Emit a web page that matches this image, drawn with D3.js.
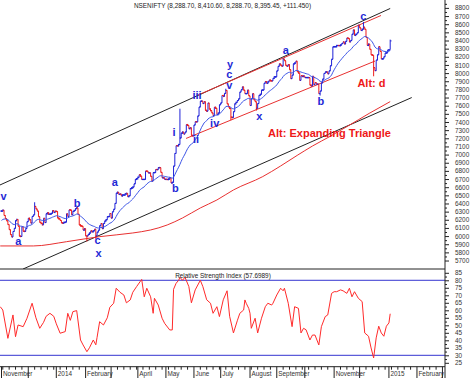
<!DOCTYPE html>
<html>
<head>
<meta charset="utf-8">
<script src="https://cdn.jsdelivr.net/npm/d3@7/dist/d3.min.js"></script>
<style>
body{margin:0;background:#fff}
svg{display:block;font-family:"Liberation Sans",Arial,sans-serif}
</style>
</head>
<body>
<svg id="chart" width="474" height="378"></svg>
<script>
// ---- data: NSENIFTY daily closes, one per weekday from 1 Nov 2013 ----
var closes = [
// Nov 2013
6307,6317,6253,6215,6187,6141,6079,6018,5989,6056,6095,6190,6204,6122,5999,5995,6115,6059,6057,6092,6176,
// Dec 2013
6218,6201,6160,6241,6260,6364,6333,6307,6238,6168,6155,6139,6218,6166,6274,6284,6268,6270,6278,6313,6291,6304,
// Jan 2014
6302,6221,6211,6191,6162,6159,6168,6171,6273,6242,6321,6319,6262,6304,6314,6338,6346,6267,6136,6126,6120,6074,6090,
// Feb
6002,6001,6022,6036,6063,6053,6063,6084,6001,6048,6073,6127,6153,6091,6155,6186,6200,6239,6239,6277,
// Mar
6221,6298,6329,6401,6527,6537,6512,6516,6493,6504,6504,6517,6524,6484,6494,6583,6590,6601,6641,6696,6704,
// Apr
6721,6752,6736,6695,6695,6695,6797,6796,6776,6776,6733,6675,6779,6779,6817,6815,6840,6840,6782,6715,6715,6696,
// May
6696,6694,6700,6715,6652,6659,6859,7014,7109,7108,7123,7203,7264,7276,7252,7276,7367,7359,7318,7329,7235,7230,
// Jun
7362,7403,7402,7474,7583,7655,7656,7626,7649,7542,7533,7632,7558,7540,7511,7477,7580,7569,7493,7508,7611,
// Jul
7634,7725,7714,7751,7787,7623,7585,7567,7459,7454,7527,7624,7640,7663,7684,7767,7795,7831,7790,7748,7748,7791,7721,
// Aug
7602,7684,7747,7672,7649,7568,7626,7727,7739,7792,7792,7875,7897,7875,7891,7913,7906,7904,7936,7954,7954,
// Sep
8027,8083,8114,8095,8086,8173,8152,8094,8085,8105,8042,7932,7975,8114,8122,8146,8017,8002,7911,7968,7958,7964,
// Oct
7945,7945,7945,7945,7852,7842,7960,7859,7884,7864,7864,7748,7779,7879,7927,7995,8014,8014,7991,8027,8090,8170,8322,
// Nov
8324,8324,8338,8338,8337,8344,8363,8383,8357,8390,8430,8425,8382,8401,8477,8530,8463,8475,8494,8588,
// Dec
8555,8524,8537,8564,8538,8438,8340,8355,8292,8224,8219,8067,8030,8159,8225,8324,8268,8174,8174,8200,8246,8248,8283,
// Jan 2015
8284,8395
];

// intraday extremes that stand out from the bars
var highDays = [26, 140, 176, 221, 284, 305];
var highVals = [6415, 7563, 7808, 8180, 8627, 8410.6];
var lowDays = [67, 74, 180, 200, 250, 292, 305];
var lowVals = [5933, 5962, 7422, 7540, 7724, 7961, 8288.7];

var emaSeed = 6180;

// 200 day average (red curve)
var ma200Days = [-1, 25, 51, 77, 103, 117, 130, 142, 156, 169, 182, 205, 219, 232, 244, 258, 271, 289, 305];
var ma200Vals = [5879, 5879, 5931, 5993, 6038, 6075, 6136, 6222, 6345, 6443, 6566, 6730, 6860, 6990, 7105, 7225, 7343, 7510, 7650];

// RSI
var rsiDays = [-1,1,5,9,11,13,17,20,24,27,30,33,35,38,41,43,46,50,52,54,56,59,62,64,67,69,72,74,75,77,80,83,85,88,90,93,96,98,101,103,106,110,112,114,117,119,120,123,126,128,132,134,135,137,139,140,142,144,147,149,152,156,158,161,164,166,169,171,174,177,179,182,185,187,190,191,192,194,195,196,199,201,204,207,209,212,213,216,219,221,222,225,228,230,233,235,237,239,242,244,246,249,251,254,256,259,261,263,266,268,271,273,275,277,280,283,285,288,290,292,294,296,298,300,302,304,305];
var rsiVals = [62.4,60.2,41.3,56.9,42.4,50.2,49.1,54.7,64.7,55,48,52,56,58,56,51,44.7,45.8,58,53.3,59.1,59.8,40.2,36.9,32.4,35,40.2,37,42,52.4,50.2,55,62,64.7,74.7,72,70.2,65,66.9,72,75.8,80.6,69,74.7,69,58,68,63.5,54.7,51.3,46.9,46.9,74,78,80,82,80,82,75.8,65,73.6,80,75.8,67,64.7,58,62.4,55.8,67,73,56,44.9,53,58,60.2,66.9,64.7,61.3,58,48,54.7,44.9,54.7,62.4,64.7,63.5,64.7,70.2,74.7,73,74.7,64.7,49.1,62.4,61.3,44.9,48,47,40.2,43.5,43.5,36.9,49.1,55.8,56.9,71.3,72.4,72.4,73.6,73,71.3,74.7,69,72.4,68,65.8,44.9,42.7,34.9,28.2,41.6,49.4,44.9,42.7,49.4,51.6,57.7];
var rsiLast = "57.6989";

// trend lines [day, price]
var blackUpper = [[-1.2, 6627], [305, 8793]];
var blackLower = [[16.9, 5596], [321.9, 7700]];
var redUpper = [[153.4, 7725], [297.8, 8707]];
var redLower = [[144.8, 7198], [293.1, 8148]];

// wave labels
var waveText = ["v","a","b","c","x","a","b","i","ii","iii","iv","v","c","y","x","a","b","c"];
var waveDay = [1.6,13.2,59.4,75.3,76.1,88.9,136.4,135.4,152.6,153.4,167.3,178.7,178.7,179.3,202.3,223.1,250.5,283.9];
var wavePrice = [6443,5885,6351,5903,5747,6615,6545,7222,7142,7682,7335,7805,7934,8063,7425,8234,7609,8652];

var altText = ["Alt: d", "Alt: Expanding Triangle"];
var altDay = [290.3, 257.4];
var altPrice = [7829, 7216];

var monthLabels = ["November","December","2014","February","March","April","May","June","July","August","September","October","November","December","2015","February","March"];
var priceTicks = d3.range(5700, 8801, 100);
var rsiTicks = d3.range(25, 86, 5);
var title = "NSENIFTY (8,288.70, 8,410.60, 8,288.70, 8,395.45, +111.450)";

// ---- layout ----
var W = 445, mainH = 269, axisY = 366.7;
var svg = d3.select("#chart");
var x = d3.scaleLinear().domain([-1.185, 348]).range([0, W]);
var yP = d3.scaleLinear().domain([5596, 8897]).range([mainH, 0]);
var yR = d3.scaleLinear().domain([22.4, 87.53]).range([axisY, mainH]);

var defs = svg.append("defs");
defs.append("clipPath").attr("id","mainClip").append("rect")
  .attr("x",0).attr("y",0).attr("width",W).attr("height",mainH);
defs.append("clipPath").attr("id","rsiClip").append("rect")
  .attr("x",0).attr("y",mainH).attr("width",W).attr("height",axisY-mainH);
defs.append("clipPath").attr("id","axClip").append("rect")
  .attr("x",0).attr("y",axisY).attr("width",W).attr("height",20);

var main = svg.append("g").attr("clip-path","url(#mainClip)");

// channel lines
var segLine = d3.line().x(function(p){return x(p[0]);}).y(function(p){return yP(p[1]);});
[[blackUpper,"#222"],[blackLower,"#222"],[redUpper,"#e83030"],[redLower,"#e83030"]].forEach(function(l){
  main.append("path").attr("d",segLine(l[0])).attr("fill","none")
    .attr("stroke",l[1]).attr("stroke-width",1);
});

// 200 day average
var maPts = ma200Days.map(function(d,i){return [d, ma200Vals[i]];});
main.append("path")
  .attr("d", d3.line().curve(d3.curveMonotoneX).x(function(p){return x(p[0]);}).y(function(p){return yP(p[1]);})(maPts))
  .attr("fill","none").attr("stroke","#e83030").attr("stroke-width",1);

// bars
var bars = closes.map(function(c,i){
  var o = i > 0 ? closes[i-1] : c;
  return {i:i, open:o, close:c, high:Math.max(o,c), low:Math.min(o,c)};
});
highDays.forEach(function(d,k){ bars[d].high = highVals[k]; });
lowDays.forEach(function(d,k){ bars[d].low = lowVals[k]; });

var barG = main.append("g");
bars.forEach(function(b){
  var col = b.close >= b.open ? "#1f22d8" : "#ee1c1c";
  var bx = x(b.i);
  var y1 = yP(b.high), y2 = yP(b.low);
  if (y2 - y1 < 1.5) { y1 -= 0.75; y2 += 0.75; }
  barG.append("line").attr("x1",bx).attr("x2",bx).attr("y1",y1).attr("y2",y2)
    .attr("stroke",col).attr("stroke-width",1);
  barG.append("line").attr("x1",bx-1.3).attr("x2",bx).attr("y1",yP(b.open)).attr("y2",yP(b.open))
    .attr("stroke",col).attr("stroke-width",1);
  barG.append("line").attr("x1",bx).attr("x2",bx+1.3).attr("y1",yP(b.close)).attr("y2",yP(b.close))
    .attr("stroke",col).attr("stroke-width",1);
});

// 20 day EMA
var ema = [], e = emaSeed, k = 2/21;
closes.forEach(function(c,i){ e = e + k*(c - e); ema.push([i, e]); });
main.append("path")
  .attr("d", segLine(ema)).attr("fill","none").attr("stroke","#3d55e6").attr("stroke-width",1);

// wave labels
main.selectAll("text.wave").data(waveText).enter().append("text")
  .attr("class","wave")
  .attr("x", function(d,i){return x(waveDay[i]);})
  .attr("y", function(d,i){return yP(wavePrice[i]);})
  .attr("text-anchor","middle")
  .attr("font-size","11px").attr("font-weight","bold").attr("fill","#1f2ad6")
  .text(function(d){return d;});

main.selectAll("text.alt").data(altText).enter().append("text")
  .attr("class","alt")
  .attr("x", function(d,i){return x(altDay[i]);})
  .attr("y", function(d,i){return yP(altPrice[i]);})
  .attr("text-anchor","middle")
  .attr("font-size","11px").attr("font-weight","bold").attr("fill","#ee1818")
  .text(function(d){return d;});

svg.append("text").attr("x", W/2).attr("y", 8).attr("text-anchor","middle")
  .attr("font-size","6.4px").attr("fill","#222").text(title);

// ---- RSI panel ----
var rsiG = svg.append("g").attr("clip-path","url(#rsiClip)");
[80, 30].forEach(function(v){
  rsiG.append("line").attr("x1",0).attr("x2",W).attr("y1",yR(v)).attr("y2",yR(v))
    .attr("stroke","#3535d0").attr("stroke-width",1);
});
var rsiPts = rsiDays.map(function(d,i){return [d, rsiVals[i]];});
rsiG.append("path")
  .attr("d", d3.line().x(function(p){return x(p[0]);}).y(function(p){return yR(p[1]);})(rsiPts))
  .attr("fill","none").attr("stroke","#ff2a2a").attr("stroke-width",1);

svg.append("text").attr("x", W/2 + 0.5).attr("y", 277.5).attr("text-anchor","middle")
  .attr("font-size","6.4px").attr("fill","#222")
  .text("Relative Strength Index (" + rsiLast + ")");

// frame lines
svg.append("line").attr("x1",0).attr("x2",W).attr("y1",mainH).attr("y2",mainH)
  .attr("stroke","#222").attr("stroke-width",1);
svg.append("line").attr("x1",0).attr("x2",W).attr("y1",axisY).attr("y2",axisY)
  .attr("stroke","#222").attr("stroke-width",1);
svg.append("line").attr("x1",W).attr("x2",W).attr("y1",0).attr("y2",378)
  .attr("stroke","#222").attr("stroke-width",1);

// ---- right axes ----
function styleAxis(g){
  g.select(".domain").remove();
  g.selectAll("line").attr("stroke","#222");
  g.selectAll("text").attr("font-size","6.4px").attr("fill","#333")
    .attr("font-family","Liberation Sans, Arial, sans-serif");
}
svg.append("g").attr("transform","translate("+W+",0)")
  .call(d3.axisRight(yP).tickValues(priceTicks).tickSize(4).tickPadding(6).tickFormat(d3.format("d")))
  .call(styleAxis);
svg.append("g").attr("transform","translate("+W+",0)")
  .call(d3.axisRight(yP).tickValues(priceTicks.map(function(v){return v+50;}).filter(function(v){return v < 8890;})).tickSize(2).tickFormat(""))
  .call(styleAxis);
svg.append("g").attr("transform","translate("+W+",0)")
  .call(d3.axisRight(yR).tickValues(rsiTicks).tickSize(4).tickPadding(6).tickFormat(d3.format("d")))
  .call(styleAxis);
svg.append("g").attr("transform","translate("+W+",0)")
  .call(d3.axisRight(yR).tickValues(rsiTicks.map(function(v){return v+2.5;}).filter(function(v){return v < 87;})).tickSize(2).tickFormat(""))
  .call(styleAxis);

// ---- bottom time axis (weekdays) ----
var days = [], dt = new Date(2013, 10, 1);
while (days.length < 350) {
  if (dt.getDay() % 6 !== 0) days.push(new Date(dt));
  dt.setDate(dt.getDate() + 1);
}
var monthStarts = [], mondays = [];
days.forEach(function(d,i){
  if (i === 0 || d.getMonth() !== days[i-1].getMonth()) monthStarts.push(i);
  else if (d.getDay() === 1) mondays.push(i);
});
var axG = svg.append("g");
mondays.forEach(function(i){
  if (x(i) < W) axG.append("line").attr("x1",x(i)).attr("x2",x(i)).attr("y1",axisY).attr("y2",axisY+3)
    .attr("stroke","#222").attr("stroke-width",1);
});
var labG = svg.append("g").attr("clip-path","url(#axClip)");
var lastEnd = -10;
monthStarts.forEach(function(i,m){
  var tx = x(i);
  if (tx > W) return;
  axG.append("line").attr("x1",tx).attr("x2",tx).attr("y1",axisY).attr("y2",378)
    .attr("stroke","#222").attr("stroke-width",1);
  var lx = Math.max(tx + 1.5, 0);
  if (lx > lastEnd + 1) {
    var t = labG.append("text").attr("x", lx).attr("y", 375.5)
      .attr("font-size","6.4px").attr("fill","#333").text(monthLabels[m]);
    lastEnd = lx + t.node().getComputedTextLength();
  }
});
</script>
</body>
</html>
